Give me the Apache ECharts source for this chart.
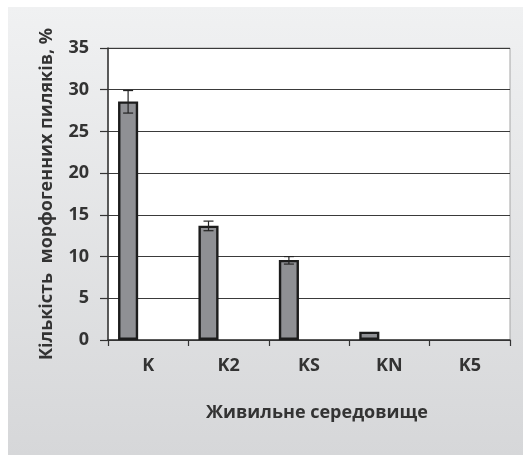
<!DOCTYPE html>
<html>
<head>
<meta charset="utf-8">
<style>
  html, body { margin: 0; padding: 0; background: #fff; }
  #chart { width: 523px; height: 455px; }
</style>
<script src="https://cdn.jsdelivr.net/npm/echarts@6/dist/echarts.min.js"></script>
</head>
<body>
<div id="chart"></div>
<script>
const categories = ['K', 'K2', 'KS', 'KN', 'K5']
const values = [28.6, 13.7, 9.6, 1.0, 0]
const errLow = [27.2, 13.1, 9.1, null, null]
const errHigh = [29.9, 14.25, 10.0, null, null]

const chart = echarts.init(document.getElementById('chart'))

const font = '"Open Sans", "DejaVu Sans", sans-serif'
const textColor = '#333'

const renderError = (params, api) => {
  const idx = api.value(0)
  const lo = api.value(1)
  const hi = api.value(2)
  const band = api.size([1, 0])[0]
  const off = -0.25 * band
  const pLo = api.coord([idx, lo])
  const pHi = api.coord([idx, hi])
  const x = pLo[0] + off
  const cap = 5
  const style = { stroke: '#222', lineWidth: 1.2 }
  return {
    type: 'group',
    children: [
      { type: 'line', shape: { x1: x, y1: pLo[1], x2: x, y2: pHi[1] }, style },
      { type: 'line', shape: { x1: x - cap, y1: pLo[1], x2: x + cap, y2: pLo[1] }, style },
      { type: 'line', shape: { x1: x - cap, y1: pHi[1], x2: x + cap, y2: pHi[1] }, style }
    ]
  }
}

chart.setOption({
  animation: false,
  graphic: [{
    type: 'rect',
    z: -10,
    shape: { x: 8, y: 7, width: 515, height: 448 },
    style: {
      fill: {
        type: 'linear', x: 0, y: 0, x2: 0, y2: 1,
        colorStops: [
          { offset: 0, color: '#f0f1f2' },
          { offset: 1, color: '#d6d7d9' }
        ]
      }
    }
  }],
  grid: {
    left: 108,
    top: 48,
    right: 13,
    bottom: 115,
    show: true,
    backgroundColor: '#fff',
    borderColor: '#a5a5a5',
    borderWidth: 1
  },
  xAxis: {
    type: 'category',
    data: categories,
    name: 'Живильне середовище',
    nameLocation: 'middle',
    nameGap: 64,
    nameTextStyle: { fontFamily: font, fontWeight: 'bold', fontSize: 18, color: textColor, padding: [0, 0, 0, 16] },
    axisLine: { lineStyle: { color: '#333', width: 1.5 } },
    axisTick: { show: true, length: 6, lineStyle: { color: '#333', width: 1.2 } },
    axisLabel: { fontFamily: font, fontWeight: 'bold', fontSize: 18, color: textColor, margin: 17 }
  },
  yAxis: {
    type: 'value',
    min: 0,
    max: 35,
    interval: 5,
    name: 'Кількість  морфогенних пиляків, %',
    nameLocation: 'middle',
    nameGap: 52,
    nameTextStyle: { fontFamily: font, fontWeight: 'bold', fontSize: 18, color: textColor },
    axisLine: { show: true, lineStyle: { color: '#333', width: 1.5 } },
    axisTick: { show: true, length: 8, lineStyle: { color: '#333', width: 1.2 } },
    axisLabel: { fontFamily: font, fontWeight: 'bold', fontSize: 18, color: textColor, margin: 19 },
    splitLine: { lineStyle: { color: '#3a3a3a', width: 1.2 } }
  },
  series: [
    {
      type: 'bar',
      data: values.map(v => v || '-'),
      barGap: '0%',
      barCategoryGap: '25%',
      itemStyle: { color: '#8f9094', borderColor: '#1c1c1c', borderWidth: 2.4 },
      z: 3
    },
    { type: 'bar', data: categories.map(() => '-') },
    { type: 'bar', data: categories.map(() => '-') },
    {
      type: 'custom',
      renderItem: renderError,
      data: categories.map((c, i) => [i, errLow[i], errHigh[i]]).filter(d => d[1] != null),
      encode: { x: 0, y: [1, 2] },
      z: 5
    }
  ]
})

window.addEventListener('resize', () => {
  chart.resize()
})
</script>
</body>
</html>
